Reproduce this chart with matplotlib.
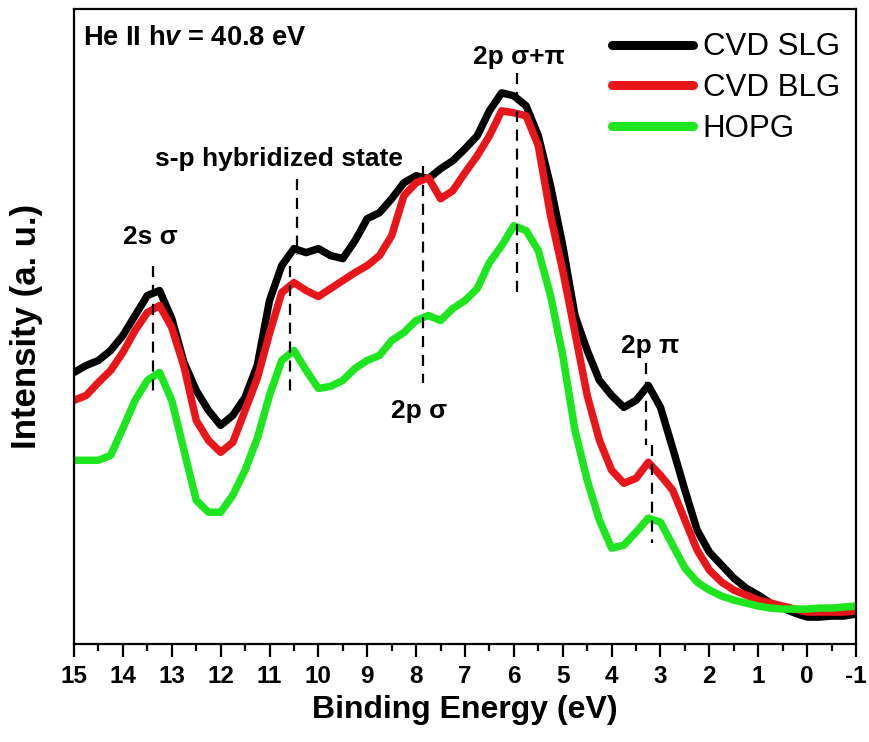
import numpy as np
import matplotlib
matplotlib.use("Agg")
import matplotlib.pyplot as plt

plt.rcParams["font.family"] = ["Liberation Sans", "DejaVu Sans"]
plt.rcParams["axes.unicode_minus"] = False
plt.rcParams["mathtext.fontset"] = "custom"
plt.rcParams["mathtext.it"] = "Liberation Sans:italic:bold"
plt.rcParams["mathtext.rm"] = "Liberation Sans:bold"

# Binding energy grid (eV), 15 -> -1
energy = np.arange(15.0, -1.0 - 1e-9, -0.25)

# UPS intensities (a.u.)
cvd_slg = [272, 279, 284, 294, 309, 329, 349, 354, 326, 282, 254, 234, 219,
           229, 247, 279, 344, 379, 396, 392, 396, 389, 386, 404, 426, 432,
           446, 462, 469, 466, 476, 484, 496, 509, 534, 552, 549, 539, 509,
           459, 399, 329, 294, 264, 249, 237, 244, 259, 237, 196, 154, 114,
           92, 79, 66, 56, 49, 41, 36, 31, 27, 27, 28, 28, 30]
cvd_blg = [244, 249, 262, 274, 292, 314, 332, 339, 317, 278, 224, 204, 192,
           202, 234, 266, 311, 352, 362, 354, 348, 356, 364, 372, 379, 389,
           409, 449, 462, 467, 446, 454, 472, 489, 509, 534, 532, 529, 499,
           429, 374, 312, 249, 204, 174, 161, 166, 182, 169, 154, 124, 94,
           74, 62, 54, 49, 44, 41, 38, 35, 32, 32, 32, 32, 33]
hopg = [184, 184, 184, 189, 216, 244, 264, 272, 244, 194, 144, 132, 132,
        149, 174, 206, 249, 284, 294, 274, 256, 258, 264, 276, 284, 289,
        304, 312, 324, 329, 324, 336, 344, 356, 382, 399, 419, 414, 394,
        349, 289, 214, 164, 124, 96, 99, 112, 126, 122, 99, 76, 62, 54,
        48, 44, 41, 38, 36, 35, 35, 35, 36, 36, 37, 38]

series_labels = ["CVD SLG", "CVD BLG", "HOPG"]
series_colors = ["#000000", "#e8161b", "#1ee61e"]

# Peak markers: (energy, y_start, y_end)
marker_lines = [
    (13.38, 379, 249),
    (10.43, 466, 390),
    (10.59, 379, 249),
    (7.85, 479, 261),
    (5.94, 572, 352),
    (3.30, 281, 199),
    (3.17, 199, 101),
]
# Peak labels: (text, energy, y)
peak_labels = [
    ("2s σ", 13.44, 401),
    ("s-p hybridized state", 10.80, 479),
    ("2p σ", 7.93, 226),
    ("2p σ+π", 5.90, 581),
    ("2p π", 3.22, 291),
]

fig = plt.figure(figsize=(8.69, 7.42), dpi=100)
ax = fig.add_axes([74 / 869, 98 / 742, 782 / 869, 635 / 742])

for vals, lab, col in zip([cvd_slg, cvd_blg, hopg], series_labels, series_colors):
    ax.plot(energy, vals, color=col, lw=5.4, label=lab, solid_joinstyle="round",
            solid_capstyle="round")

for e, y0, y1 in marker_lines:
    ax.plot([e, e], [y0, y1], color="black", lw=1.6, ls=(0, (5, 3.5)), zorder=5)

for txt, e, y in peak_labels:
    ax.text(e, y, txt, ha="center", va="baseline", fontsize=19, fontweight="bold")

ax.text(14.82, 600, r"He II h$\it{v}$ = 40.8 eV", ha="left", va="baseline",
        fontsize=19.6, fontweight="bold")

ax.set_xlim(15, -1)
ax.set_ylim(0, 636)
ax.set_xticks(np.arange(15, -2, -1))
ax.set_xticks(np.arange(14.5, -1, -1), minor=True)
ax.set_yticks([])
ax.tick_params(axis="x", which="major", direction="out", length=9, width=1.6,
               pad=6, labelsize=17.5)
ax.tick_params(axis="x", which="minor", direction="out", length=5, width=1.6)
for lbl in ax.get_xticklabels():
    lbl.set_fontweight("bold")
for sp in ax.spines.values():
    sp.set_linewidth(1.6)

ax.set_xlabel("Binding Energy (eV)", fontsize=23, fontweight="bold", labelpad=5)
ax.set_ylabel("Intensity (a. u.)", fontsize=25, fontweight="bold", labelpad=22)

leg = ax.legend(loc="upper left", bbox_to_anchor=(0.688, 0.963), frameon=False,
                fontsize=22.5, handlelength=2.6, handletextpad=0.3,
                labelspacing=0.35, borderpad=0, borderaxespad=0)
for h in leg.get_lines():
    h.set_linewidth(6.5)

fig.savefig("out.png", dpi=100)
